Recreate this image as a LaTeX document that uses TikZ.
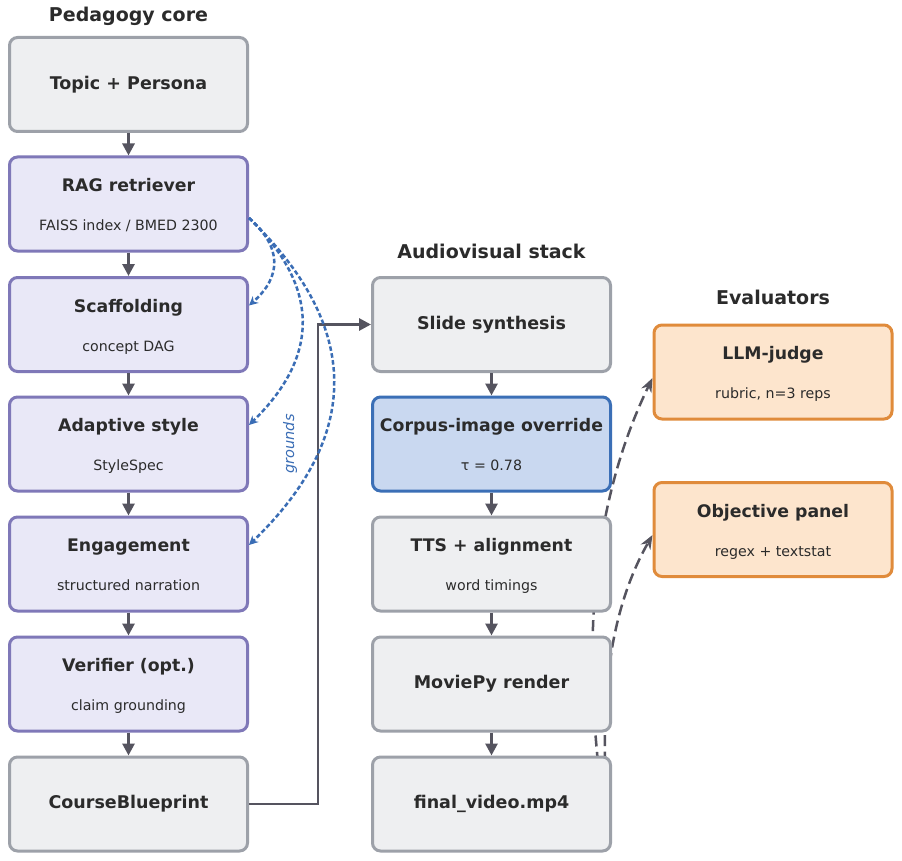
\documentclass[tikz,border=0pt]{standalone}
\usepackage{fontspec}
\setmainfont{DejaVu Sans}
\usetikzlibrary{arrows.meta,backgrounds}
\definecolor{grayfill}{HTML}{EEEFF1}
\definecolor{grayedge}{HTML}{9DA1A9}
\definecolor{purpfill}{HTML}{E9E8F7}
\definecolor{purpedge}{HTML}{7F78B8}
\definecolor{bluefill}{HTML}{C9D8F0}
\definecolor{blueedge}{HTML}{3B6FB6}
\definecolor{orfill}{HTML}{FDE5CD}
\definecolor{oredge}{HTML}{E08B3B}
\definecolor{arrowc}{HTML}{55545F}
\definecolor{ink}{HTML}{2B2B2B}
\definecolor{groundc}{HTML}{3A6DB5}
\begin{document}
\begin{tikzpicture}[x=1pt,y=-1pt,
  box/.style={draw, rounded corners=8pt, line width=3pt, minimum width=238pt, minimum height=94pt, inner sep=0pt, text=ink, font=\fontsize{17.5}{20}\selectfont\bfseries},
  graybox/.style={box, draw=grayedge, fill=grayfill},
  purpbox/.style={box, draw=purpedge, fill=purpfill},
  bluebox/.style={box, draw=blueedge, fill=bluefill},
  orbox/.style={box, draw=oredge, fill=orfill},
  ttl/.style={font=\fontsize{17.3}{20}\selectfont\bfseries, text=ink, inner sep=0pt, text height=0.76em, text depth=0.24em},
  sub/.style={font=\fontsize{14.2}{17}\selectfont, text=ink, inner sep=0pt, text height=0.76em, text depth=0.24em},
  sect/.style={font=\fontsize{19}{22}\selectfont\bfseries, text=ink, inner sep=0pt},
  flow/.style={draw=arrowc, line width=2.8pt, -{Triangle[length=12pt,width=12pt]}},
  grounding/.style={draw=groundc, line width=2.5pt, dash pattern=on 4.5pt off 2.5pt, -{Stealth[length=9pt,width=9pt]}},
  evalarrow/.style={draw=arrowc, line width=2.5pt, dash pattern=on 11pt off 5.5pt, -{Stealth[length=14pt,width=11pt]}}
]
\useasboundingbox (0,0) rectangle (902,861);

% section titles
\node[sect] (t-ped) at (128.5,16.5) {Pedagogy core};
\node[sect] (t-av) at (491.5,251.5) {Audiovisual stack};
\node[sect] (t-ev) at (773,297.5) {Evaluators};

% left column
\node[graybox] (topic) at (128.5,84.5) {Topic + Persona};
\node[purpbox] (rag) at (128.5,204) {};
\node[ttl] (rag-t) at ([yshift=15pt]rag.center) {RAG retriever};
\node[sub] (rag-s) at ([yshift=-24pt]rag.center) {FAISS index / BMED 2300};
\node[purpbox] (scaf) at (128.5,324.5) {};
\node[ttl] (scaf-t) at ([yshift=15pt]scaf.center) {Scaffolding};
\node[sub] (scaf-s) at ([yshift=-24pt]scaf.center) {concept DAG};
\node[purpbox] (style) at (128.5,444) {};
\node[ttl] (style-t) at ([yshift=15pt]style.center) {Adaptive style};
\node[sub] (style-s) at ([yshift=-24pt]style.center) {StyleSpec};
\node[purpbox] (engage) at (128.5,564) {};
\node[ttl] (engage-t) at ([yshift=15pt]engage.center) {Engagement};
\node[sub] (engage-s) at ([yshift=-24pt]engage.center) {structured narration};
\node[purpbox] (verif) at (128.5,684) {};
\node[ttl] (verif-t) at ([yshift=15pt]verif.center) {Verifier (opt.)};
\node[sub] (verif-s) at ([yshift=-24pt]verif.center) {claim grounding};
\node[graybox] (blueprint) at (128.5,804) {CourseBlueprint};

% middle column
\node[graybox] (slide) at (491.5,324.5) {Slide synthesis};
\node[bluebox] (corpus) at (491.5,444) {};
\node[ttl] (corpus-t) at ([yshift=15pt]corpus.center) {Corpus-image override};
\node[sub] (corpus-s) at ([yshift=-24pt]corpus.center) {τ = 0.78};
\node[graybox] (tts) at (491.5,564) {};
\node[ttl] (tts-t) at ([yshift=15pt]tts.center) {TTS + alignment};
\node[sub] (tts-s) at ([yshift=-24pt]tts.center) {word timings};
\node[graybox] (render) at (491.5,684) {MoviePy render};
\node[graybox] (final) at (491.5,804) {final\_video.mp4};

% right column
\node[orbox] (judge) at (773,372) {};
\node[ttl] (judge-t) at ([yshift=15pt]judge.center) {LLM-judge};
\node[sub] (judge-s) at ([yshift=-24pt]judge.center) {rubric, n=3 reps};
\node[orbox] (objective) at (773,529.5) {};
\node[ttl] (objective-t) at ([yshift=15pt]objective.center) {Objective panel};
\node[sub] (objective-s) at ([yshift=-24pt]objective.center) {regex + textstat};

% column flows
\draw[flow] (topic) -- (rag);
\draw[flow] (rag) -- (scaf);
\draw[flow] (scaf) -- (style);
\draw[flow] (style) -- (engage);
\draw[flow] (engage) -- (verif);
\draw[flow] (verif) -- (blueprint);
\draw[flow] (slide) -- (corpus);
\draw[flow] (corpus) -- (tts);
\draw[flow] (tts) -- (render);
\draw[flow] (render) -- (final);

% blueprint to slide synthesis
\coordinate (elbow) at (318,324.5);
\draw[flow] (blueprint.east) -| (elbow) -- (slide.west);

% grounding curves
\draw[grounding] ([yshift=-14pt]rag.east) .. controls +(33,29) and +(33,-29) .. ([yshift=19pt]scaf.east);
\draw[grounding] ([yshift=-14pt]rag.east) .. controls +(71,69) and +(71,-69) .. ([yshift=19pt]style.east);
\draw[grounding] ([yshift=-14pt]rag.east) .. controls +(113,109) and +(113,-109) .. ([yshift=19pt]engage.east);
\node[font=\fontsize{14.5}{17}\selectfont\itshape, text=groundc, rotate=90, inner sep=0pt] (grounds) at (290,444) {grounds};

% evaluator arrows behind boxes
\begin{scope}[on background layer]
\fill[white] (0,0) rectangle (902,861);
\draw[evalarrow] ([xshift=-8pt,yshift=-8pt]final.east) .. controls +(-21,-150) and +(-66,136) .. ([yshift=-6pt]judge.west);
\draw[evalarrow] ([xshift=-4pt,yshift=-8pt]final.east) .. controls +(-8,-94) and +(-48,84) .. ([yshift=-5.5pt]objective.west);
\end{scope}
\end{tikzpicture}
\end{document}
